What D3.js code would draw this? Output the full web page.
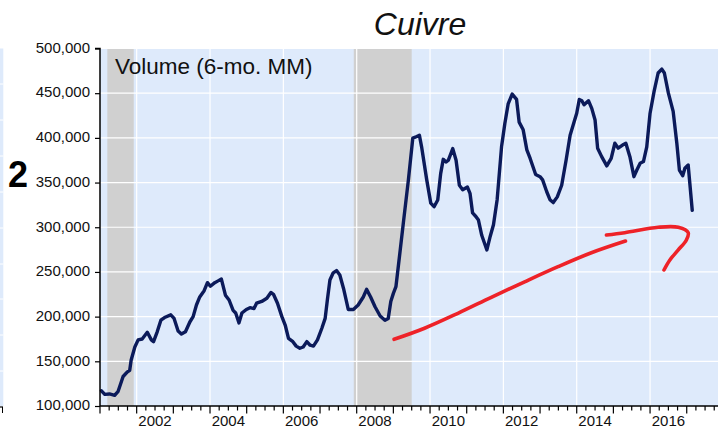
<!DOCTYPE html>
<html>
<head>
<meta charset="utf-8">
<script src="https://cdn.jsdelivr.net/npm/d3@7"></script>
<style>
  html, body { margin: 0; padding: 0; background: #ffffff; }
  svg { display: block; font-family: "Liberation Sans", Arial, sans-serif; }
</style>
</head>
<body>
<svg id="chart" width="718" height="429"></svg>
<script>
// ---- data ----
const title = "Cuivre";
const seriesLabel = "Volume (6-mo. MM)";
const panelNumber = "2";

// decimal-year dates of the readings
const dates = [
  2001.04, 2001.13, 2001.26, 2001.40, 2001.49, 2001.63, 2001.74, 2001.81, 2001.85, 2001.95,
  2002.04, 2002.15, 2002.29, 2002.40, 2002.46, 2002.56, 2002.66, 2002.76, 2002.93, 2003.02,
  2003.13, 2003.22, 2003.33, 2003.45, 2003.54, 2003.63, 2003.72, 2003.84, 2003.93, 2004.01,
  2004.13, 2004.22, 2004.31, 2004.42, 2004.52, 2004.63, 2004.70, 2004.79, 2004.87, 2004.99,
  2005.09, 2005.20, 2005.27, 2005.41, 2005.55, 2005.66, 2005.73, 2005.84, 2005.96, 2006.05,
  2006.14, 2006.26, 2006.35, 2006.45, 2006.54, 2006.64, 2006.73, 2006.82, 2006.93, 2007.05,
  2007.14, 2007.20, 2007.27, 2007.36, 2007.45, 2007.54, 2007.65, 2007.77, 2007.91, 2008.04,
  2008.18, 2008.27, 2008.38, 2008.50, 2008.64, 2008.77, 2008.86, 2008.93, 2009.00, 2009.07,
  2009.16, 2009.27, 2009.41, 2009.53, 2009.64, 2009.71, 2009.77, 2009.91, 2010.02, 2010.11,
  2010.21, 2010.29, 2010.36, 2010.44, 2010.50, 2010.62, 2010.71, 2010.80, 2010.89, 2011.02,
  2011.09, 2011.16, 2011.25, 2011.32, 2011.41, 2011.55, 2011.64, 2011.73, 2011.83, 2011.95,
  2012.04, 2012.13, 2012.24, 2012.36, 2012.43, 2012.54, 2012.64, 2012.73, 2012.88, 2013.00,
  2013.07, 2013.18, 2013.27, 2013.36, 2013.47, 2013.59, 2013.71, 2013.82, 2013.93, 2014.00,
  2014.07, 2014.14, 2014.20, 2014.32, 2014.41, 2014.50, 2014.57, 2014.68, 2014.82, 2014.94,
  2015.04, 2015.13, 2015.25, 2015.34, 2015.45, 2015.56, 2015.64, 2015.73, 2015.82, 2015.91,
  2016.00, 2016.11, 2016.22, 2016.32, 2016.39, 2016.50, 2016.63, 2016.73, 2016.80, 2016.89,
  2016.95, 2017.04, 2017.15
];
const volume = [
  117000, 113000, 113500, 112000, 116000, 133000, 138000, 140000, 151500, 166000,
  174000, 175000, 182500, 174000, 172000, 183000, 196000, 199000, 202000, 198000,
  184000, 180500, 183000, 194000, 200000, 213000, 222000, 229000, 238000, 234000,
  238000, 240000, 242000, 224000, 218600, 207000, 204000, 193000, 204000, 208000,
  210000, 209000, 215000, 217000, 220500, 227000, 225000, 215000, 200000, 190600,
  175700, 172000, 167000, 164600, 166000, 172000, 168000, 167000, 174000, 187000,
  198000, 218600, 241000, 249000, 251500, 246600, 230000, 208000, 208000, 213000,
  222000, 230500, 222000, 211000, 200700, 196000, 198000, 217000, 226000, 233500,
  265000, 304000, 353000, 399700, 401500, 403000, 390000, 353000, 327000, 323000,
  330500, 360000, 376000, 373000, 375000, 388000, 375000, 347000, 342000, 345000,
  338000, 316000, 312000, 308000, 291000, 274600, 289700, 302800, 330800, 390000,
  416000, 438000, 449000, 443000, 417600, 409000, 386600, 377000, 359000, 356600,
  353000, 340000, 330800, 327600, 334000, 347000, 375000, 403000, 418000, 427600,
  443000, 441600, 437000, 441600, 433000, 420000, 388500, 379000, 368700, 377000,
  394000, 388500, 392000, 394000, 379000, 356600, 364000, 371700, 373500, 390000,
  427600, 452000, 472600, 477000, 472600, 450000, 429600, 394000, 364000, 357600,
  366000, 369600, 319000
];

// recession shading (start, end) in decimal years
const recessionStart = [2001.20, 2007.92];
const recessionEnd   = [2001.92, 2009.50];

// axis ticks
const yTicks = [100000, 150000, 200000, 250000, 300000, 350000, 400000, 450000, 500000];
const xLabelYears = [2002, 2004, 2006, 2008, 2010, 2012, 2014, 2016];

// hand-drawn red annotation (decimal year, value)
const arrowShaftT = [2009.02, 2009.85, 2010.76, 2011.67, 2012.58, 2013.49, 2014.40, 2015.33];
const arrowShaftV = [174600, 187000, 203700, 221600, 239000, 255900, 271500, 284600];
const arrowHookT = [2014.81, 2015.31, 2016.22, 2016.77, 2017.04, 2016.99, 2016.77, 2016.54, 2016.38];
const arrowHookV = [291300, 293900, 300000, 300000, 294000, 285800, 274600, 263400, 252200];

// ---- drawing ----
const W = 718, H = 429;
const svg = d3.select("#chart");

const x = d3.scaleLinear().domain([2001, 2018]).range([100, 723.4]);
const y = d3.scaleLinear().domain([100000, 500000]).range([406, 48.5]);

const plotLeft = x(2001), plotTop = y(500000), plotBottom = y(100000);

// remnant of neighbouring panel on the far left
svg.append("rect").attr("x", 0).attr("y", plotTop).attr("width", 3.3)
  .attr("height", plotBottom - plotTop).attr("fill", "#deeafb");
[84, 120, 156, 192, 228, 264, 299, 335, 371].forEach(v => {
  svg.append("line").attr("x1", 0).attr("x2", 3.3).attr("y1", v).attr("y2", v)
    .attr("stroke", "#ffffff").attr("stroke-width", 1);
});
svg.append("line").attr("x1", 0).attr("x2", 3).attr("y1", 407).attr("y2", 407)
  .attr("stroke", "#000").attr("stroke-width", 1.2);
svg.append("line").attr("x1", 2.5).attr("x2", 2.5).attr("y1", 407).attr("y2", 413)
  .attr("stroke", "#000").attr("stroke-width", 1);

// plot background
svg.append("rect").attr("x", plotLeft).attr("y", plotTop)
  .attr("width", W - plotLeft).attr("height", plotBottom - plotTop)
  .attr("fill", "#deeafb");

// recession bands
recessionStart.forEach((s, i) => {
  svg.append("rect").attr("x", x(s)).attr("y", plotTop)
    .attr("width", x(recessionEnd[i]) - x(s)).attr("height", plotBottom - plotTop)
    .attr("fill", "#d0d0d0");
});

// grid
const grid = svg.append("g");
yTicks.filter(v => v > 100000).forEach(v => {
  grid.append("line").attr("x1", plotLeft).attr("x2", W)
    .attr("y1", y(v)).attr("y2", y(v))
    .attr("stroke", "#ffffff").attr("stroke-width", 1.2);
});
xLabelYears.forEach(t => {
  grid.append("line").attr("x1", x(t)).attr("x2", x(t))
    .attr("y1", plotTop).attr("y2", plotBottom)
    .attr("stroke", "#ffffff").attr("stroke-width", 1.2);
});

// series line
const line = d3.line().x(d => x(d[0])).y(d => y(d[1]));
const pts = dates.map((t, i) => [t, volume[i]]);
svg.append("path").datum(pts).attr("d", line)
  .attr("fill", "none").attr("stroke", "#0b1a5a").attr("stroke-width", 3.4)
  .attr("stroke-linejoin", "round").attr("stroke-linecap", "round");

// red annotation
const redLine = d3.line().x(d => x(d[0])).y(d => y(d[1])).curve(d3.curveCatmullRom.alpha(0.5));
svg.append("path").datum(arrowShaftT.map((t, i) => [t, arrowShaftV[i]])).attr("d", redLine)
  .attr("fill", "none").attr("stroke", "#ee2228").attr("stroke-width", 3.6)
  .attr("stroke-linecap", "round").attr("stroke-linejoin", "round");
svg.append("path").datum(arrowHookT.map((t, i) => [t, arrowHookV[i]])).attr("d", redLine)
  .attr("fill", "none").attr("stroke", "#ee2228").attr("stroke-width", 3.6)
  .attr("stroke-linecap", "round").attr("stroke-linejoin", "round");

// y axis
const yAxis = d3.axisLeft(y).tickValues(yTicks).tickSize(5).tickPadding(5)
  .tickFormat(d3.format(","));
const gy = svg.append("g").attr("transform", `translate(${plotLeft},0)`).call(yAxis);
gy.select(".domain").attr("stroke", "#000").attr("stroke-width", 1.5)
  .attr("d", `M-5,${plotTop}H0V${plotBottom}`);
gy.selectAll(".tick line").attr("stroke", "#000").attr("stroke-width", 1.2);
gy.selectAll(".tick text").attr("font-size", 15).attr("fill", "#111")
  .attr("font-family", "'Liberation Sans', Arial, sans-serif").attr("dy", "0.25em");

// x axis: major yearly, minor quarterly ticks
const gx = svg.append("g");
gx.append("line").attr("x1", plotLeft).attr("x2", W).attr("y1", plotBottom).attr("y2", plotBottom)
  .attr("stroke", "#000").attr("stroke-width", 1.5);
const quarterTicks = d3.range(2001, 2018.01, 0.25);
gx.selectAll("line.q").data(quarterTicks).enter().append("line")
  .attr("x1", d => x(d)).attr("x2", d => x(d))
  .attr("y1", plotBottom)
  .attr("y2", d => Math.abs(d - Math.round(d)) < 1e-6 ? plotBottom + 7.5 : plotBottom + 4.5)
  .attr("stroke", "#000").attr("stroke-width", 1.2);
gx.selectAll("text").data(xLabelYears).enter().append("text")
  .attr("x", d => x(d + 0.5)).attr("y", 425.5)
  .attr("text-anchor", "middle").attr("font-size", 15).attr("fill", "#111")
  .text(d => d);

// texts
svg.append("text").attr("x", 420).attr("y", 35).attr("text-anchor", "middle")
  .attr("font-size", 32).attr("font-style", "italic").attr("fill", "#111").text(title);
svg.append("text").attr("x", 115).attr("y", 74).attr("font-size", 22.5)
  .attr("fill", "#111").text(seriesLabel);
svg.append("text").attr("x", 18).attr("y", 187).attr("text-anchor", "middle")
  .attr("font-size", 36).attr("font-weight", "bold").attr("fill", "#000").text(panelNumber);
</script>
</body>
</html>
